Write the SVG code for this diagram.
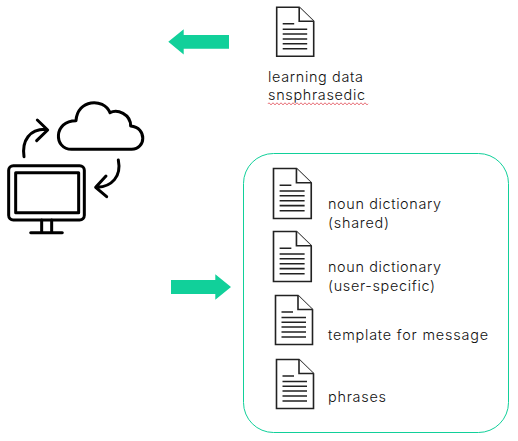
<svg xmlns="http://www.w3.org/2000/svg" width="518" height="441" viewBox="0 0 518 441">
  <style>
    text{font-family:"Inter","Noto Sans",sans-serif;font-size:14.4px;font-weight:300;fill:#111}
    .ln{fill:none;stroke:#000;stroke-width:9;stroke-linecap:round;stroke-linejoin:round}
    .arrow{fill:#11d09a}
    .doc{fill:#fff;stroke:#222;stroke-width:1.6}
    .rule{stroke:#222;stroke-width:1.5}
  </style>
  <defs>
    <g id="doc">
      <path class="doc" d="M0,0H22.5L37,14V49H0Z"/>
      <path class="doc" fill="none" d="M22.5,0V14H37"/>
      <path class="rule" d="M6,16.5H17.5M6,22H30.5M6,26.8H30.5M6,31.6H30.5M6,36.4H30.5M6,41.4H30.5"/>
    </g>
  </defs>
  <rect id="panel" x="243.5" y="153.5" width="265" height="279" rx="30" fill="#fff" stroke="#11d09a" stroke-width="1"/>
  <g id="connectors">
    <path class="arrow" d="M229,35V48.7H183.7V54.5L168.3,41.8L183.7,29.3V35Z"/>
    <path class="arrow" d="M171,280H215.3V274.3L231,287L215.3,299.7V294H171Z"/>
  </g>
  <g id="computer-cloud" transform="translate(0,90) scale(.3333)">
    <path class="ln" d="M215,178H395C438,178 442,112 392,108C392,72 352,56 330,68C310,22 232,28 228,92C160,92 160,178 215,178Z"/>
    <path class="ln" d="M72,200C65,150 90,118 135,118M112,90L143,120L110,152"/>
    <path class="ln" d="M355,210C365,260 335,290 292,292M318,258L287,292L320,320"/>
    <rect class="ln" x="26" y="227" width="227" height="163" rx="14"/>
    <rect class="ln" x="47" y="248" width="189" height="120"/>
    <path class="ln" d="M125,390V426M155,390V426M92,428H187"/>
  </g>
  <g id="learning-data">
    <use href="#doc" x="276.7" y="7.3"/>
    <text x="268" y="82" textLength="95" lengthAdjust="spacing">learning data</text>
    <text x="268" y="100" textLength="97" lengthAdjust="spacing">snsphrasedic</text>
    <path d="M268,103.8q1,-2 2,0t2,0t2,0t2,0t2,0t2,0t2,0t2,0t2,0t2,0t2,0t2,0t2,0t2,0t2,0t2,0t2,0t2,0t2,0t2,0t2,0t2,0t2,0t2,0t2,0t2,0t2,0t2,0t2,0t2,0t2,0t2,0t2,0t2,0t2,0t2,0t2,0t2,0t2,0t2,0t2,0t2,0t2,0t2,0t2,0t2,0t2,0t2,0t2,0t2,0" fill="none" stroke="#e0454f" stroke-width=".9"/>
  </g>
  <g id="noun-shared">
    <use href="#doc" transform="translate(273.5,168.5) scale(1.02,1.02)"/>
    <text x="328" y="209" textLength="113" lengthAdjust="spacing">noun dictionary</text>
    <text x="328" y="228" textLength="61" lengthAdjust="spacing">(shared)</text>
  </g>
  <g id="noun-user">
    <use href="#doc" transform="translate(273.5,231.5) scale(1.02,1.02)"/>
    <text x="328" y="272" textLength="113" lengthAdjust="spacing">noun dictionary</text>
    <text x="328" y="291" textLength="107" lengthAdjust="spacing">(user-specific)</text>
  </g>
  <g id="template">
    <use href="#doc" x="275.5" y="295.5"/>
    <text x="328" y="339.5" textLength="160" lengthAdjust="spacing">template for message</text>
  </g>
  <g id="phrases">
    <use href="#doc" x="276.5" y="359.5"/>
    <text x="328" y="402" textLength="58" lengthAdjust="spacing">phrases</text>
  </g>
</svg>
